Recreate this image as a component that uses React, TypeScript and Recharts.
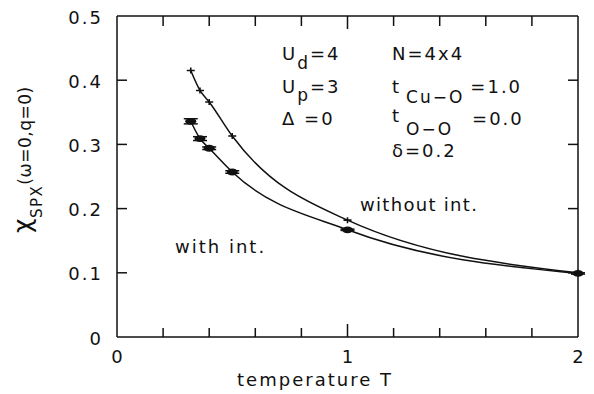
import React from 'react';
import { LineChart, Line, XAxis, YAxis, ErrorBar } from 'recharts';

const temps = [0.32, 0.36, 0.4, 0.5, 1.0, 2.0];
const withoutInt = [0.415, 0.384, 0.366, 0.313, 0.182, 0.1];
const withInt = [0.336, 0.309, 0.294, 0.257, 0.167, 0.099];
const withIntErr = [0.004, 0.003, 0.002, 0.002, 0.001, 0.001];

const xTicks = [0, 0.2, 0.4, 0.6, 0.8, 1, 1.2, 1.4, 1.6, 1.8, 2];
const yTicks = [0, 0.1, 0.2, 0.3, 0.4, 0.5];

const data = temps.map((t, i) => ({ T: t, without: withoutInt[i], with: withInt[i], err: withIntErr[i] }));

// plot frame edges (chart margins + axis sizes below)
const PLOT_TOP = 16;
const PLOT_RIGHT = 578;

const FONT = '"DejaVu Sans", sans-serif';
const txt = { fontFamily: FONT, fontSize: 18, letterSpacing: 2, fill: '#111' };

const isMajor = (v: number) => Math.abs(v - Math.round(v)) < 1e-6;

// bottom axis tick: inward tick at bottom and mirrored one hanging from the top frame
const BottomTick = (p: any) => {
  const v = p.payload.value;
  const inner = v > 0 && v < 2;
  return (
    <g>
      {inner && <line x1={p.x} x2={p.x} y1={p.y} y2={p.y - (isMajor(v) ? 13 : 9)} stroke="#111" strokeWidth={1.5} />}
      {inner && <line x1={p.x} x2={p.x} y1={PLOT_TOP} y2={PLOT_TOP + (isMajor(v) ? 13 : 10)} stroke="#111" strokeWidth={1.5} />}
      {isMajor(v) && <text x={p.x + 1} y={p.y + 26} textAnchor="middle" {...txt}>{v}</text>}
    </g>
  );
};

const LeftTick = (p: any) => {
  const v = p.payload.value;
  const inner = v > 0 && v < 0.5;
  return (
    <g>
      {inner && <line x1={p.x} x2={p.x + 10} y1={p.y} y2={p.y} stroke="#111" strokeWidth={1.5} />}
      {inner && <line x1={PLOT_RIGHT} x2={PLOT_RIGHT - 10} y1={p.y} y2={p.y} stroke="#111" strokeWidth={1.5} />}
      <text x={p.x - 14} y={p.y + 1} textAnchor="end" dominantBaseline="central" {...txt}>{v === 0 ? '0' : v.toFixed(1)}</text>
    </g>
  );
};

const CrossDot = (p: any) => (
  <path key={p.index} d={`M${p.cx - 4},${p.cy}h8M${p.cx},${p.cy - 3}v6`} stroke="#111" strokeWidth={1.6} fill="none" />
);

const BlobDot = (p: any) => (
  <ellipse key={p.index} cx={p.cx} cy={p.cy} rx={5.5} ry={3.4} fill="#111" />
);

export default function App() {
  return (
    <div style={{ position: 'absolute', left: 0, top: 0, width: 594, height: 394, background: '#fff' }}>
      <LineChart width={594} height={394} data={data} margin={{ top: 15, right: 15, bottom: 0, left: 0 }}>
        <XAxis xAxisId="b" dataKey="T" type="number" domain={[0, 2]} ticks={xTicks} height={57}
          tickSize={0} tickMargin={0} interval={0} tick={<BottomTick />} axisLine={{ stroke: '#111', strokeWidth: 1.5 }} />
        <XAxis xAxisId="t" orientation="top" dataKey="T" type="number" domain={[0, 2]} height={1}
          tick={false} tickLine={false} axisLine={{ stroke: '#111', strokeWidth: 1.5 }} />
        <YAxis yAxisId="l" type="number" domain={[0, 0.5]} ticks={yTicks} width={117} allowDataOverflow
          tickSize={0} tickMargin={0} interval={0} tick={<LeftTick />} axisLine={{ stroke: '#111', strokeWidth: 1.5 }} />
        <YAxis yAxisId="r" orientation="right" type="number" domain={[0, 0.5]} width={1} allowDataOverflow
          tick={false} tickLine={false} axisLine={{ stroke: '#111', strokeWidth: 1.5 }} />
        {/* invisible series so the top/right frame axes get drawn */}
        <Line xAxisId="t" yAxisId="r" type="monotone" dataKey="with" stroke="none" dot={false} activeDot={false} isAnimationActive={false} />
        <Line xAxisId="b" yAxisId="l" type="monotone" dataKey="without" stroke="#111" strokeWidth={1.5}
          dot={<CrossDot />} isAnimationActive={false} />
        <Line xAxisId="b" yAxisId="l" type="monotone" dataKey="with" stroke="#111" strokeWidth={1.5}
          dot={<BlobDot />} isAnimationActive={false}>
          <ErrorBar dataKey="err" width={7} stroke="#111" strokeWidth={1.5} direction="y" />
        </Line>
      </LineChart>
      <svg width={594} height={394} style={{ position: 'absolute', left: 0, top: 0, pointerEvents: 'none' }}>
        <text transform="rotate(-90, 31, 233)" x={31} y={233} {...txt} letterSpacing={0.5}>
          <tspan fontSize={25}>χ</tspan>
          <tspan fontSize={15} dy={11} letterSpacing={1.5}>SPX</tspan>
          <tspan fontSize={17} dy={-11}>(ω=0,q=0)</tspan>
        </text>
        <text x={315} y={386} textAnchor="middle" {...txt}>temperature T</text>

        <text x={282} y={60} {...txt}>U<tspan fontSize={17} dy={9}>d</tspan><tspan dy={-9}>=4</tspan></text>
        <text x={282} y={93} {...txt}>U<tspan fontSize={17} dy={8}>p</tspan><tspan dy={-8}>=3</tspan></text>
        <text x={282} y={125} {...txt}>Δ <tspan>=0</tspan></text>

        <text x={392} y={60} {...txt}>N=4x4</text>
        <text x={392} y={93} {...txt}>t<tspan fontSize={17} dx={5} dy={10}>Cu−O</tspan><tspan dx={6} dy={-10}>=1.0</tspan></text>
        <text x={392} y={122} {...txt}>t<tspan fontSize={17} dx={5} dy={13}>O−O</tspan><tspan dx={19} dy={-10}>=0.0</tspan></text>
        <text x={392} y={157} {...txt}>δ=0.2</text>

        <text x={360} y={211} {...txt} letterSpacing={1.3}>without int.</text>
        <text x={175} y={253} {...txt}>with int.</text>
      </svg>
    </div>
  );
}
